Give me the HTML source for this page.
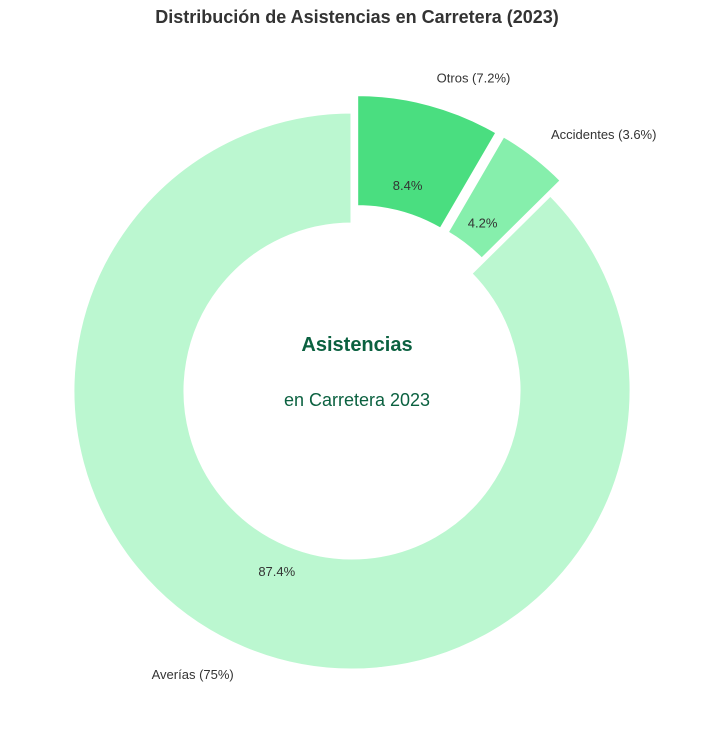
<!DOCTYPE html>
<html><head><meta charset="utf-8"><style>
body{margin:0;background:#fff;}
svg{display:block;font-family:"Liberation Sans","DejaVu Sans",sans-serif;}
</style></head><body>
<svg id="chart" width="714" height="735" viewBox="0 0 714 735">
<text x="357" y="23" text-anchor="middle" font-size="18" font-weight="bold" fill="#333">Distribución de Asistencias en Carretera (2023)</text>
<g id="slices"></g>
<text x="357" y="351" text-anchor="middle" font-size="20" font-weight="bold" fill="#0b6140">Asistencias</text>
<text x="357" y="406" text-anchor="middle" font-size="18" fill="#0b6140">en Carretera 2023</text>
</svg>
<script>
const categories = ["Otros", "Accidentes", "Averías"];
const values = [7.2, 3.6, 75];
const explode = [1, 1, 0];
const colors = ["#4ade80", "#86efac", "#bbf7d0"];

const cx = 352, cy = 391, R = 279, r = 167, ex = 18;
const total = values.reduce((a, b) => a + b, 0);
const g = document.getElementById('slices');
const NS = "http://www.w3.org/2000/svg";
function pt(a, rad, ox, oy) { const t = a * Math.PI / 180; return [cx + ox + rad * Math.cos(t), cy + oy - rad * Math.sin(t)]; }
let start = 90;
values.forEach((v, i) => {
  const sweep = v / total * 360;
  const end = start - sweep;
  const mid = (start + end) / 2;
  const mt = mid * Math.PI / 180;
  const ox = explode[i] * ex * Math.cos(mt), oy = -explode[i] * ex * Math.sin(mt);
  const large = sweep > 180 ? 1 : 0;
  const p1 = pt(start, R, ox, oy), p2 = pt(end, R, ox, oy), p3 = pt(end, r, ox, oy), p4 = pt(start, r, ox, oy);
  const path = document.createElementNS(NS, 'path');
  path.setAttribute('d', `M${p1[0]},${p1[1]} A${R},${R} 0 ${large} 1 ${p2[0]},${p2[1]} L${p3[0]},${p3[1]} A${r},${r} 0 ${large} 0 ${p4[0]},${p4[1]} Z`);
  path.setAttribute('fill', colors[i]);
  path.setAttribute('stroke', '#fff');
  path.setAttribute('stroke-width', '3');
  
  
  g.appendChild(path);
  const lp = pt(mid, R * 1.1, ox, oy);
  const lab = document.createElementNS(NS, 'text');
  lab.setAttribute('x', lp[0]); lab.setAttribute('y', lp[1] + 5);
  lab.setAttribute('text-anchor', Math.cos(mt) >= 0 ? 'start' : 'end');
  lab.setAttribute('font-size', '13'); lab.setAttribute('fill', '#333');
  lab.textContent = categories[i] + ' (' + v + '%)';
  
  
  g.appendChild(lab);
  const pp = pt(mid, R * 0.7, ox, oy);
  const pct = document.createElementNS(NS, 'text');
  pct.setAttribute('x', pp[0]); pct.setAttribute('y', pp[1] + 5);
  pct.setAttribute('text-anchor', 'middle');
  pct.setAttribute('font-size', '13'); pct.setAttribute('fill', '#333');
  pct.textContent = (v / total * 100).toFixed(1) + '%';
  
  
  g.appendChild(pct);
  start = end;
});
</script>
</body></html>
